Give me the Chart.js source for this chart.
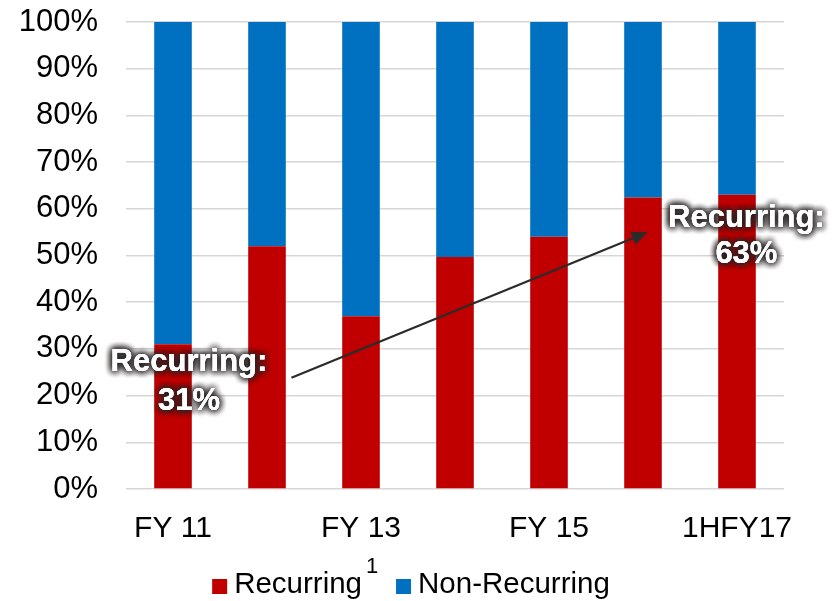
<!DOCTYPE html>
<html>
<head>
<meta charset="utf-8">
<script src="https://cdn.jsdelivr.net/npm/chart.js@4"></script>
<style>
  html, body { margin: 0; padding: 0; background: #ffffff; }
  #wrap { width: 832px; height: 601px; position: relative; }
</style>
</head>
<body>
<div id="wrap"><canvas id="c" width="832" height="601"></canvas></div>
<script>
// Revenue mix by fiscal period (share of total, %)
const periods = ['FY 11', 'FY 12', 'FY 13', 'FY 14', 'FY 15', 'FY 16', '1HFY17'];
const tickLabels = ['FY 11', '', 'FY 13', '', 'FY 15', '', '1HFY17'];
const recurring = [31, 52, 37, 49.7, 54, 62.4, 63];
const nonRecurring = [69, 48, 63, 50.3, 46, 37.6, 37];
const yTicks = [0, 10, 20, 30, 40, 50, 60, 70, 80, 90, 100];

const RED = '#C00000';
const BLUE = '#0070C0';
const FONT = "'Liberation Sans', Arial, sans-serif";

// Callout texts and the trend arrow, placed in data space
const callouts = [
  { idx: 0, dx: 0.17, lines: ['Recurring:', recurring[0] + '%'], y: [25.3, 17.0] },
  { idx: 6, dx: 0.1, lines: ['Recurring:', recurring[6] + '%'], y: [56.1, 48.3] }
];
const trendArrow = { from: [1.26, 23.8], to: [5.05, 55.0] };

const overlay = {
  id: 'overlay',
  afterDatasetsDraw(chart) {
    const { ctx, scales: { x, y } } = chart;
    ctx.save();
    // trend arrow
    const x1 = x.getPixelForValue(trendArrow.from[0]);
    const y1 = y.getPixelForValue(trendArrow.from[1]);
    const x2 = x.getPixelForValue(trendArrow.to[0]);
    const y2 = y.getPixelForValue(trendArrow.to[1]);
    const ang = Math.atan2(y2 - y1, x2 - x1);
    const head = 16, half = 7;
    ctx.strokeStyle = '#2b2b2b';
    ctx.fillStyle = '#2b2b2b';
    ctx.lineWidth = 2.2;
    ctx.beginPath();
    ctx.moveTo(x1, y1);
    ctx.lineTo(x2 - Math.cos(ang) * head * 0.8, y2 - Math.sin(ang) * head * 0.8);
    ctx.stroke();
    ctx.beginPath();
    ctx.moveTo(x2, y2);
    ctx.lineTo(x2 - head * Math.cos(ang) + half * Math.sin(ang), y2 - head * Math.sin(ang) - half * Math.cos(ang));
    ctx.lineTo(x2 - head * Math.cos(ang) - half * Math.sin(ang), y2 - head * Math.sin(ang) + half * Math.cos(ang));
    ctx.closePath();
    ctx.fill();

    // glowing callout labels
    ctx.font = 'bold 31px ' + FONT;
    ctx.textAlign = 'center';
    ctx.textBaseline = 'alphabetic';
    callouts.forEach(c => {
      const cx = x.getPixelForValue(c.idx + c.dx);
      c.lines.forEach((t, i) => {
        const ty = y.getPixelForValue(c.y[i]);
        ctx.shadowColor = 'rgba(40,35,35,1)';
        ctx.shadowBlur = 7;
        ctx.fillStyle = '#ffffff';
        for (let k = 0; k < 4; k++) ctx.fillText(t, cx, ty);
        ctx.shadowBlur = 0;
        ctx.fillText(t, cx, ty);
      });
    });
    ctx.restore();
  },
  afterDraw(chart) {
    // legend row under the axis, with a footnote marker after the first entry
    const { ctx } = chart;
    const ds = chart.data.datasets;
    const baseline = 593, box = 15, boxGap = 7, itemGap = 34, centerX = 411;
    ctx.save();
    ctx.font = '29.5px ' + FONT;
    const widths = ds.map(d => ctx.measureText(d.label).width);
    const total = widths.reduce((s, w) => s + box + boxGap + w, 0) + itemGap * (ds.length - 1);
    let cx = centerX - total / 2;
    ds.forEach((d, i) => {
      ctx.fillStyle = d.backgroundColor;
      ctx.fillRect(cx, baseline - 14, box, box);
      ctx.fillStyle = '#000000';
      ctx.textAlign = 'left';
      ctx.textBaseline = 'alphabetic';
      ctx.font = '29.5px ' + FONT;
      ctx.fillText(d.label, cx + box + boxGap, baseline);
      const end = cx + box + boxGap + widths[i];
      if (i === 0) {
        ctx.font = '22px ' + FONT;
        ctx.fillText('1', end + 4, baseline - 20);
      }
      cx = end + itemGap;
    });
    ctx.restore();
  }
};

new Chart(document.getElementById('c'), {
  type: 'bar',
  data: {
    labels: periods,
    datasets: [
      { label: 'Recurring', data: recurring, backgroundColor: RED, borderWidth: 0 },
      { label: 'Non-Recurring', data: nonRecurring, backgroundColor: BLUE, borderWidth: 0 }
    ]
  },
  options: {
    responsive: false,
    animation: false,
    devicePixelRatio: 1,
    layout: { padding: { top: 22, right: 48, left: 0, bottom: 62 } },
    datasets: { bar: { barPercentage: 0.4, categoryPercentage: 1.0 } },
    plugins: {
      tooltip: { enabled: false },
      legend: { display: false }
    },
    scales: {
      x: {
        stacked: true,
        grid: { display: false, drawTicks: false },
        border: { display: false },
        ticks: {
          autoSkip: false, maxRotation: 0, padding: 22,
          color: '#000000',
          font: { family: FONT, size: 30 },
          callback: (v, i) => tickLabels[i]
        },
        afterFit(s) { s.height = 50; s.paddingLeft = 0; s.paddingRight = 0; }
      },
      y: {
        stacked: true,
        min: 0, max: 100,
        afterBuildTicks(s) { s.ticks = yTicks.map(v => ({ value: v })); },
        grid: { color: '#d9d5d5', lineWidth: 1.5, drawTicks: false },
        border: { display: false },
        ticks: {
          padding: 28,
          color: '#000000',
          font: { family: FONT, size: 31 },
          callback: v => v + '%'
        },
        afterFit(s) { s.width = 126; s.paddingTop = 0; s.paddingBottom = 0; }
      }
    }
  },
  plugins: [overlay]
});
</script>
</body>
</html>
